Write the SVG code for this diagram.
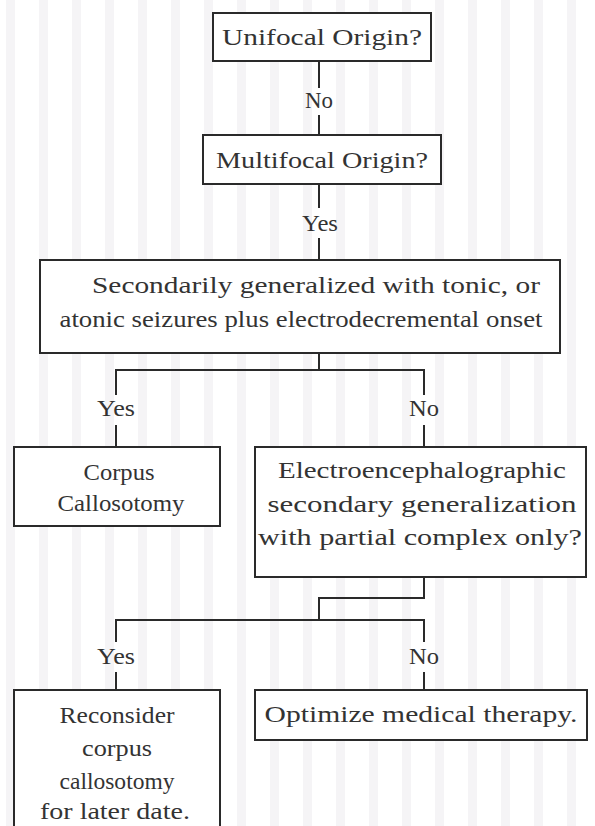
<svg xmlns="http://www.w3.org/2000/svg" width="595" height="826" viewBox="0 0 595 826">
<defs>
<pattern id="stripes" x="0" y="0" width="33" height="826" patternUnits="userSpaceOnUse">
<rect x="6" y="0" width="9" height="826" fill="#f5f4f6"/>
</pattern>
<style>
.box{fill:#ffffff;stroke:#2a2a2a;stroke-width:2}
.ln{fill:none;stroke:#2a2a2a;stroke-width:2}
text{font-family:"Liberation Serif","Times New Roman",serif;font-size:23px;fill:#333333;text-anchor:middle}
</style>
</defs>
<rect width="595" height="826" fill="#ffffff"/>
<rect width="595" height="826" fill="url(#stripes)"/>
<g id="connectors">
<path class="ln" d="M319 61V88M319 115V135"/>
<path class="ln" d="M319 184V208M319 238V260"/>
<path class="ln" d="M319 353V370M116 395V370H424V395"/>
<path class="ln" d="M116 425V447M424 425V447"/>
<path class="ln" d="M424 577V598H319V620M116 642V620H424V642"/>
<path class="ln" d="M116 672V690M424 672V690"/>
<text x="319" y="108" textLength="28" lengthAdjust="spacingAndGlyphs">No</text>
<text x="320" y="231" textLength="36" lengthAdjust="spacingAndGlyphs">Yes</text>
<text x="116" y="416" textLength="38" lengthAdjust="spacingAndGlyphs">Yes</text>
<text x="424" y="416" textLength="30" lengthAdjust="spacingAndGlyphs">No</text>
<text x="116" y="664" textLength="38" lengthAdjust="spacingAndGlyphs">Yes</text>
<text x="424" y="664" textLength="30" lengthAdjust="spacingAndGlyphs">No</text>
</g>
<g id="unifocal">
<rect class="box" x="213" y="13" width="218" height="48"/>
<text x="322" y="45" textLength="200" lengthAdjust="spacingAndGlyphs">Unifocal Origin?</text>
</g>
<g id="multifocal">
<rect class="box" x="203" y="135" width="238" height="49"/>
<text x="322" y="168" textLength="212" lengthAdjust="spacingAndGlyphs">Multifocal Origin?</text>
</g>
<g id="secondarily">
<rect class="box" x="40" y="260" width="520" height="93"/>
<text x="316" y="293" textLength="448" lengthAdjust="spacingAndGlyphs">Secondarily generalized with tonic, or</text>
<text x="301" y="327" textLength="483" lengthAdjust="spacingAndGlyphs">atonic seizures plus electrodecremental onset</text>
</g>
<g id="corpus">
<rect class="box" x="14" y="447" width="206" height="79"/>
<text x="119" y="480" textLength="71" lengthAdjust="spacingAndGlyphs">Corpus</text>
<text x="121" y="511" textLength="127" lengthAdjust="spacingAndGlyphs">Callosotomy</text>
</g>
<g id="electro">
<rect class="box" x="255" y="447" width="331" height="130"/>
<text x="422" y="478" textLength="288" lengthAdjust="spacingAndGlyphs">Electroencephalographic</text>
<text x="422" y="512" textLength="309" lengthAdjust="spacingAndGlyphs">secondary generalization</text>
<text x="420" y="545" textLength="324" lengthAdjust="spacingAndGlyphs">with partial complex only?</text>
</g>
<g id="reconsider">
<rect class="box" x="14" y="690" width="206" height="150"/>
<text x="117" y="723" textLength="115" lengthAdjust="spacingAndGlyphs">Reconsider</text>
<text x="117" y="756" textLength="70" lengthAdjust="spacingAndGlyphs">corpus</text>
<text x="117" y="789" textLength="115" lengthAdjust="spacingAndGlyphs">callosotomy</text>
<text x="115" y="819" textLength="150" lengthAdjust="spacingAndGlyphs">for later date.</text>
</g>
<g id="optimize">
<rect class="box" x="255" y="690" width="332" height="50"/>
<text x="421" y="722" textLength="313" lengthAdjust="spacingAndGlyphs">Optimize medical therapy.</text>
</g>
</svg>
